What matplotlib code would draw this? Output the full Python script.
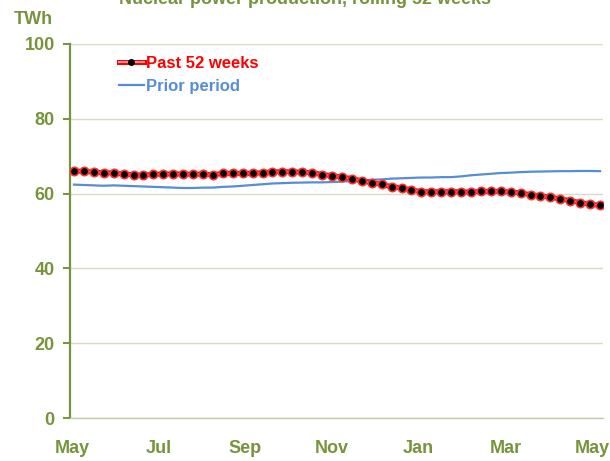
import matplotlib
matplotlib.use("Agg")
import matplotlib.pyplot as plt
import matplotlib.lines as mlines
import numpy as np

plt.rcParams['font.family'] = ['Liberation Sans', 'DejaVu Sans']

title = "Nuclear power production, rolling 52 weeks"
unit = "TWh"
month_labels = ["May", "Jul", "Sep", "Nov", "Jan", "Mar", "May"]
month_pos = [-0.2, 8.53, 17.27, 26.0, 34.73, 43.47, 52.2]
y_ticks = [0, 20, 40, 60, 80, 100]

past_52 = [66.0, 66.0, 65.7, 65.6, 65.5, 65.2, 65.05, 64.9, 65.2, 65.2, 65.3, 65.2, 65.2,
           65.2, 65.05, 65.4, 65.4, 65.4, 65.4, 65.6, 65.8, 65.85, 65.85, 65.7, 65.6, 65.1,
           64.8, 64.4, 64.0, 63.4, 62.9, 62.5, 61.8, 61.5, 61.0, 60.5, 60.5, 60.5, 60.5,
           60.5, 60.4, 60.6, 60.6, 60.6, 60.4, 60.2, 59.7, 59.4, 59.0, 58.6, 58.1, 57.6, 57.1, 56.9]
prior = [62.4, 62.3, 62.2, 62.1, 62.2, 62.1, 62.0, 61.9, 61.8, 61.7, 61.6, 61.5, 61.5,
         61.6, 61.6, 61.8, 61.9, 62.1, 62.3, 62.5, 62.7, 62.8, 62.9, 62.95, 63.0, 63.0,
         63.1, 63.2, 63.4, 63.5, 63.7, 63.8, 64.0, 64.1, 64.2, 64.3, 64.3, 64.4, 64.4,
         64.6, 64.9, 65.1, 65.3, 65.5, 65.6, 65.75, 65.85, 65.9, 65.95, 66.0, 66.0, 66.05, 66.05, 66.0]

olive = "#77933C"
blue = "#558ED5"

fig = plt.figure(figsize=(6.1, 4.61), dpi=100)
ax = fig.add_axes([70/610, 1-418/461, 533/610, 374/461])

x = np.arange(len(past_52))
ax.plot(x, prior, color=blue, lw=1.6, zorder=3)
ax.plot(x, past_52, color="red", lw=3.6, solid_capstyle='butt', zorder=4)
ax.plot(x, past_52, color="#FF9A9A", lw=1.4, marker='o', markersize=6,
        markerfacecolor='black', markeredgecolor='#FF3030', markeredgewidth=1.2,
        zorder=5)

ax.set_ylim(0, 100)
ax.set_xlim(-0.4, 53.3)
ax.set_yticks(y_ticks)
ax.set_xticks(month_pos)
ax.set_xticklabels(month_labels)
ax.yaxis.grid(True, color="#D5DCC3", lw=1.0)
ax.set_axisbelow(True)
for s in ['top', 'right']:
    ax.spines[s].set_visible(False)
ax.spines['left'].set_color(olive)
ax.spines['left'].set_linewidth(1.6)
ax.spines['bottom'].set_color("#C3CCA8")
ax.spines['bottom'].set_linewidth(1.0)
ax.tick_params(axis='y', direction='out', length=5, width=1.4, color=olive, pad=6,
               labelcolor=olive, labelsize=13)
ax.tick_params(axis='x', length=0, pad=16, labelcolor=olive, labelsize=13)
for lab in ax.get_xticklabels() + ax.get_yticklabels():
    lab.set_fontweight('bold')

h_past = (mlines.Line2D([], [], color='red', lw=3.6),
          mlines.Line2D([], [], color='#FF9A9A', lw=1.4, marker='o', markersize=4,
                        markerfacecolor='black', markeredgecolor='black'))
h_prior = mlines.Line2D([], [], color=blue, lw=1.6)
leg = ax.legend([h_past, h_prior], ["Past 52 weeks", "Prior period"],
                loc='upper left', bbox_to_anchor=(0.07, 1.0),
                frameon=False, handlelength=1.5, handletextpad=0.15, labelspacing=0.5,
                prop={'weight': 'bold', 'size': 12}, borderaxespad=0.3)
for txt, c in zip(leg.get_texts(), ['red', blue]):
    txt.set_color(c)

fig.text(0.5, 1-4/461, title, ha='center', va='baseline', color=olive,
         fontsize=13, fontweight='bold')
fig.text(14/610, 1-19/461, unit, ha='left', va='center', color=olive,
         fontsize=13, fontweight='bold')

fig.savefig("out.png", dpi=100)
